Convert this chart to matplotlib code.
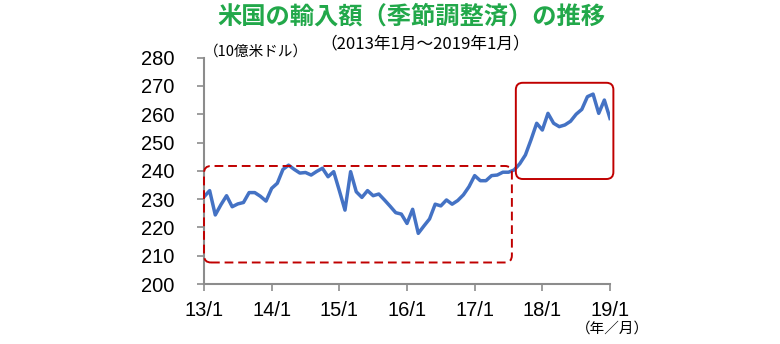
import matplotlib
matplotlib.use("Agg")
import matplotlib.pyplot as plt
from matplotlib.patches import FancyBboxPatch
from matplotlib.transforms import IdentityTransform

# ---- data (monthly, 2013/1 .. 2019/1), billions USD ----
imports = [230.8, 233.0, 224.4, 228.0, 231.2, 227.3, 228.3, 228.8, 232.3, 232.3,
           231.0, 229.3, 233.8, 235.6, 240.5, 242.0, 240.5, 239.2, 239.4, 238.5,
           239.8, 240.9, 237.9, 239.7, 233.0, 226.1, 239.7, 232.6, 230.6, 233.0,
           231.2, 231.8, 229.7, 227.5, 225.2, 224.7, 221.4, 226.4, 217.9, 220.5,
           223.0, 228.2, 227.6, 229.7, 228.2, 229.5, 231.5, 234.4, 238.3, 236.5,
           236.5, 238.3, 238.5, 239.5, 239.5, 240.3, 242.5, 245.6, 251.0, 256.8,
           254.4, 260.3, 256.8, 255.6, 256.2, 257.5, 260.0, 261.7, 266.2, 267.1,
           260.3, 265.0, 258.5]
months = list(range(len(imports)))
xtick_pos = [0, 12, 24, 36, 48, 60, 72]
xtick_labels = ["13/1", "14/1", "15/1", "16/1", "17/1", "18/1", "19/1"]
yticks = [200, 210, 220, 230, 240, 250, 260, 270, 280]

# highlight boxes (data coords: x0, x1, y0, y1)
box_dashed = (0.0, 54.6, 207.6, 241.7)
box_solid = (55.3, 72.6, 237.1, 271.1)

title = "米国の輸入額（季節調整済）の推移"
subtitle = "（2013年1月～2019年1月）"
unit_label = "（10億米ドル）"
x_unit = "（年／月）"

CJK = ["Noto Sans CJK JP", "DejaVu Sans"]
LAT = ["Liberation Sans", "DejaVu Sans"]

fig = plt.figure(figsize=(7.8, 3.44), dpi=100)
ax = fig.add_axes([204 / 780, 60 / 344, 406 / 780, 226.4 / 344])

ax.plot(months, imports, color="#4472C4", linewidth=2.5, solid_joinstyle="round")

ax.set_xlim(0, 72)
ax.set_ylim(200, 280)
ax.set_xticks(xtick_pos)
ax.set_xticklabels(xtick_labels, fontfamily=LAT, fontsize=14.5)
ax.set_yticks(yticks)
ax.set_yticklabels([str(v) for v in yticks], fontfamily=LAT, fontsize=14.5)
for s in ["top", "right"]:
    ax.spines[s].set_visible(False)
for s in ["left", "bottom"]:
    ax.spines[s].set_color("#8c8c8c")
    ax.spines[s].set_linewidth(1.5)
ax.tick_params(axis="y", direction="out", length=5, width=1.2, color="#8c8c8c", pad=16)
ax.tick_params(axis="x", direction="out", length=5, width=1.2, color="#8c8c8c", pad=7)

# rounded boxes in display pixels
fig.canvas.draw()
def add_box(b, ls):
    x0, x1, y0, y1 = b
    (px0, py0) = ax.transData.transform((x0, y0))
    (px1, py1) = ax.transData.transform((x1, y1))
    p = FancyBboxPatch((px0, py0), px1 - px0, py1 - py0,
                       boxstyle="round,pad=0,rounding_size=7",
                       transform=IdentityTransform(), fill=False,
                       edgecolor="#C00000", linewidth=1.4, linestyle=ls,
                       clip_on=False, zorder=5)
    fig.patches.append(p)
    p.set_figure(fig)

add_box(box_dashed, (0, (4.5, 2.5)))
add_box(box_solid, "-")

fig.text(0.527, 0.951, title, ha="center", va="center", fontfamily=CJK,
         fontsize=17.5, fontweight="bold", color="#22A84A")
fig.text(0.545, 0.872, subtitle, ha="center", va="center", fontfamily=CJK,
         fontsize=12, color="#000000")
fig.text(0.261, 0.849, unit_label, ha="left", va="center", fontfamily=CJK,
         fontsize=10.5, color="#000000")
fig.text(0.785, 0.044, x_unit, ha="center", va="center", fontfamily=CJK,
         fontsize=10.5, color="#000000")

fig.savefig("out.png", dpi=100)
